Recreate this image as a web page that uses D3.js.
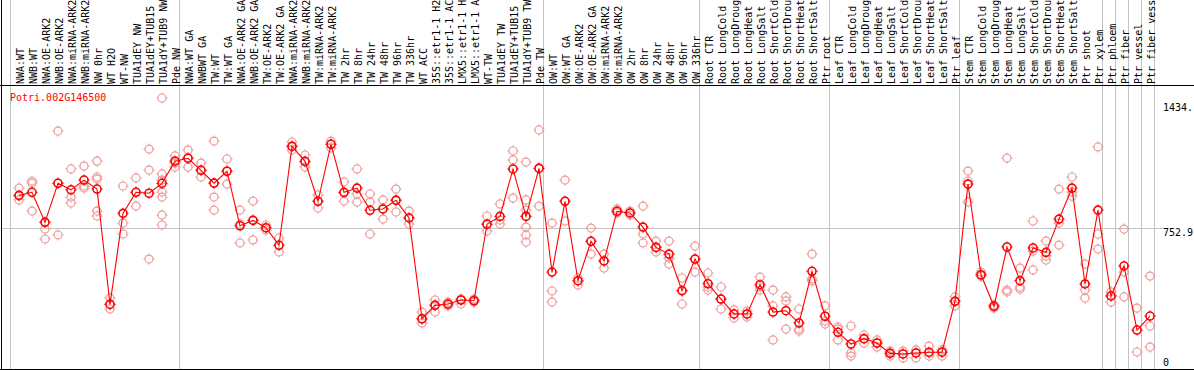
<!DOCTYPE html>
<html>
<head>
<meta charset="utf-8">
<script src="https://cdn.jsdelivr.net/npm/d3@7"></script>
<style>
  html, body { margin: 0; padding: 0; background: #fff; }
  svg { display: block; }
  text { font-family: "DejaVu Sans Mono", "Liberation Mono", monospace; font-size: 10px; }
</style>
</head>
<body>
<div id="chart"></div>
<script>
const geneName = "Potri.002G146500";

const categories = [
  "NWA:WT", "NWB:WT", "NWA:OE-ARK2", "NWB:OE-ARK2", "NWA:miRNA-ARK2", "NWB:miRNA-ARK2",
  "NW 0hr", "WT H2O", "WT-NW", "TUA1dEY NW", "TUA1dEY+TUB15 NW", "TUA1dY+TUB9 NW", "Pde NW",
  "NWA:WT GA", "NWBWT GA", "TW:WT", "TW:WT GA", "NWA:OE-ARK2 GA", "NWB:OE-ARK2 GA",
  "TW:OE-ARK2", "TW:OE-ARK2 GA", "NWA:miRNA-ARK2 GA", "NWB:miRNA-ARK2 GA", "TW:miRNA-ARK2",
  "TW:miRNA-ARK2 GA", "TW 2hr", "TW 8hr", "TW 24hr", "TW 48hr", "TW 96hr", "TW 336hr",
  "WT ACC", "35S::etr1-1 H2O", "35S::etr1-1 ACC", "LMX5::etr1-1 H2O", "LMX5::etr1-1 ACC",
  "WT-TW", "TUA1dEY TW", "TUA1dEY+TUB15 TW", "TUA1dY+TUB9 TW", "Pde TW",
  "OW:WT", "OW:WT GA", "OW:OE-ARK2", "OW:OE-ARK2 GA", "OW:miRNA-ARK2", "OW:miRNA-ARK2 GA",
  "OW 2hr", "OW 8hr", "OW 24hr", "OW 48hr", "OW 96hr", "OW 336hr",
  "Root CTR", "Root LongCold", "Root LongDrought", "Root LongHeat", "Root LongSalt",
  "Root ShortCold", "Root ShortDrought", "Root ShortHeat", "Root ShortSalt", "Ptr root",
  "Leaf CTR", "Leaf LongCold", "Leaf LongDrought", "Leaf LongHeat", "Leaf LongSalt",
  "Leaf ShortCold", "Leaf ShortDrought", "Leaf ShortHeat", "Leaf ShortSalt", "Ptr leaf",
  "Stem CTR", "Stem LongCold", "Stem LongDrought", "Stem LongHeat", "Stem LongSalt",
  "Stem ShortCold", "Stem ShortDrought", "Stem ShortHeat", "Stem ShortSalt", "Ptr shoot",
  "Ptr xylem", "Ptr phloem", "Ptr fiber", "Ptr vessel", "Ptr fiber vessel"
];

// index of the first sample of each group (last entry = end)
const groupBreaks = [0, 13, 41, 53, 63, 73, 84, 85, 86, 87, 88];

const meanValues = [
  925, 941, 784, 988, 954, 1005, 958, 355, 831, 941, 936, 988, 1104,
  1119, 1056, 989, 1051, 766, 794, 756, 664, 1181, 1103, 894, 1192, 941, 963, 847, 854, 899, 807,
  280, 350, 357, 378, 374, 774, 815, 1063, 815, 1066,
  524, 894, 479, 685, 582, 842, 833, 759, 653, 618, 427, 592,
  463, 383, 305, 305, 458, 315, 322, 258, 528, 293,
  209, 148, 176, 153, 99, 96, 101, 105, 105, 371,
  984, 510, 345, 655, 479, 650, 627, 801, 963, 462, 848,
  399, 556, 221, 294
];

const replicateValues = [
  [963, 922, 901], [1000, 989, 843], [786, 749, 697], [1261, 989, 718], [1063, 916, 885],
  [1078, 974, 963], [1104, 1021, 1010, 843, 817], [388, 357, 331], [974, 780, 723],
  [1016, 942, 869], [1167, 1057, 592], [1434, 1037, 1005, 942, 916, 822, 770], [1131, 1094, 1073],
  [1162, 1120, 1073], [1094, 1057, 1021], [1209, 989, 916, 848], [1115, 1052, 984],
  [848, 775, 676], [895, 796, 692], [770, 754, 744], [702, 665, 629], [1204, 1183, 1162],
  [1136, 1099, 1073], [927, 895, 859], [1209, 1194, 1173], [995, 937, 895], [1063, 932, 890],
  [932, 890, 723], [901, 854, 801], [958, 901, 838], [843, 807, 775],
  [315, 279, 258], [378, 352, 315], [367, 357, 347], [383, 378, 357], [383, 378, 367],
  [817, 775, 739], [880, 796, 775], [1157, 1110, 911], [1099, 901, 848, 817, 759, 718, 681],
  [1267, 1068, 869],
  [780, 425, 367], [1005, 895, 791], [493, 477, 456], [754, 686, 618], [618, 582, 545],
  [854, 843, 833], [843, 833, 822], [869, 723, 676], [686, 655, 629], [686, 597, 566],
  [493, 425, 357], [660, 592, 524],
  [519, 446, 430], [446, 383, 331], [326, 305, 284], [320, 305, 289], [498, 446, 430],
  [430, 347, 169], [394, 373, 226], [331, 226, 216], [618, 488, 477], [347, 268, 252],
  [237, 226, 169], [242, 101, 85], [195, 174, 153], [169, 153, 132], [111, 101, 85],
  [111, 96, 75], [117, 101, 75], [137, 101, 85], [117, 106, 85], [394, 373, 347],
  [1052, 1000, 890], [524, 509, 503], [352, 347, 336], [1120, 430, 420], [545, 446, 435],
  [791, 634, 535], [686, 608, 587], [958, 780, 665], [1021, 942, 921], [566, 430, 388],
  [1178, 723, 644],
  [420, 399, 367], [749, 524, 394], [336, 106], [503, 242, 132]
];

const yTickValues = [1434, 752.9, 0];
const yTickLabels = ["1434.", "752.9", "0"];
const yMax = 1434;
const yMid = 752.9;

const W = 1194, H = 370;
const frameTop = 85, frameBottom = 369;

const svg = d3.select("#chart").append("svg")
  .attr("width", W).attr("height", H)
  .attr("viewBox", `0 0 ${W} ${H}`);

const x = d3.scaleBand().domain(d3.range(categories.length)).range([11, 1155]).padding(0);
const px = i => x(i) + 8;
const y = d3.scaleLinear().domain([0, yMax]).range([372.3, 98]);

// group separator lines (full height)
svg.append("g").selectAll("line").data(groupBreaks).join("line")
  .attr("x1", d => d < categories.length ? x(d) - 0.5 : x(d - 1) + x.bandwidth() - 0.5)
  .attr("x2", d => d < categories.length ? x(d) - 0.5 : x(d - 1) + x.bandwidth() - 0.5)
  .attr("y1", 0).attr("y2", frameBottom)
  .attr("stroke", "#c4c4c4").attr("stroke-width", 1)
  .attr("shape-rendering", "crispEdges");

// middle horizontal reference line
svg.append("line")
  .attr("x1", 1).attr("x2", 1163)
  .attr("y1", Math.round(y(yMid)) + 0.5).attr("y2", Math.round(y(yMid)) + 0.5)
  .attr("stroke", "#c4c4c4").attr("stroke-width", 1);

// frame
svg.append("line").attr("x1", 0).attr("x2", W).attr("y1", frameTop + 0.5).attr("y2", frameTop + 0.5)
  .attr("stroke", "#000").attr("stroke-width", 1);
svg.append("line").attr("x1", 0).attr("x2", W).attr("y1", frameBottom + 0.5).attr("y2", frameBottom + 0.5)
  .attr("stroke", "#000").attr("stroke-width", 1);
svg.append("line").attr("x1", 1.5).attr("x2", 1.5).attr("y1", 0).attr("y2", H)
  .attr("stroke", "#000").attr("stroke-width", 1);

// category labels (rotated)
svg.append("g").selectAll("text").data(categories).join("text")
  .attr("transform", (d, i) => `translate(${px(i) + 4.5},84) rotate(-90)`)
  .attr("text-anchor", "start")
  .attr("fill", "#000")
  .text(d => d);

// gene name
svg.append("text").attr("x", 10).attr("y", 100.5).attr("fill", "#ff0000").text(geneName);

// y labels
svg.append("g").selectAll("text").data(yTickValues).join("text")
  .attr("x", 1163)
  .attr("y", d => Math.max(111, Math.min(366, y(d) + 8)))
  .attr("fill", "#000")
  .text((d, i) => yTickLabels[i]);

function marker(g, cx, cy, color, sw) {
  const r = 4;
  g.append("circle").attr("cx", cx).attr("cy", cy).attr("r", r)
    .attr("fill", "none").attr("stroke", color).attr("stroke-width", sw);
  const t = r + 1.6;
  g.append("path")
    .attr("d", `M${cx},${cy - r}V${cy - t}M${cx},${cy + r}V${cy + t}M${cx - r},${cy}H${cx - t}M${cx + r},${cy}H${cx + t}`)
    .attr("stroke", color).attr("stroke-width", 1);
}

// replicate points
const repG = svg.append("g");
replicateValues.forEach((reps, i) => {
  reps.forEach(v => marker(repG, px(i), y(v), "#ef9a9a", 1.2));
});

// mean line
svg.append("path")
  .datum(meanValues)
  .attr("fill", "none").attr("stroke", "#ff0000").attr("stroke-width", 1.1)
  .attr("d", d3.line().x((d, i) => px(i)).y(d => y(d)));

// mean markers
const meanG = svg.append("g");
meanValues.forEach((v, i) => marker(meanG, px(i), y(v), "#ff0000", 1.6));
</script>
</body>
</html>
